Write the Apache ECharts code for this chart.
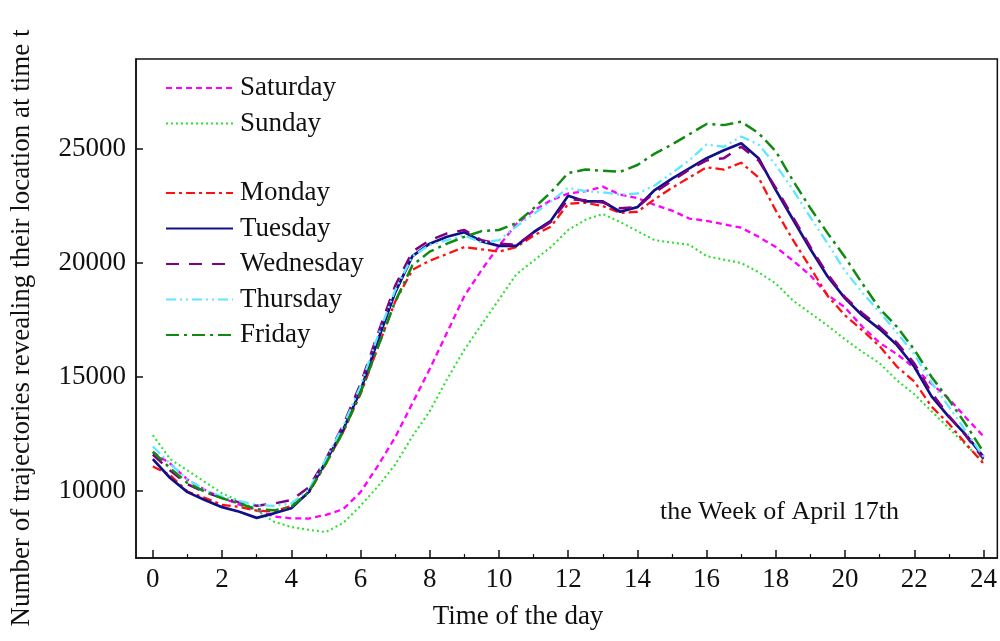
<!DOCTYPE html>
<html>
<head>
<meta charset="utf-8">
<script src="https://cdn.jsdelivr.net/npm/echarts@6/dist/echarts.min.js"></script>
<style>
html,body{margin:0;padding:0;background:#fff;}
#chart{width:1000px;height:641px;}
</style>
</head>
<body>
<div id="chart"></div>
<script>
const hours = [0,0.5,1,1.5,2,2.5,3,3.5,4,4.5,5,5.5,6,6.5,7,7.5,8,8.5,9,9.5,10,10.5,11,11.5,12,12.5,13,13.5,14,14.5,15,15.5,16,16.5,17,17.5,18,18.5,19,19.5,20,20.5,21,21.5,22,22.5,23,23.5,24];
const xTicks = [0,2,4,6,8,10,12,14,16,18,20,22,24];
const xMinorTicks = [1,3,5,7,9,11,13,15,17,19,21,23];
const yTicks = [10000,15000,20000,25000];

const saturday = [11700,11200,10500,10050,9700,9400,9150,8880,8800,8790,8950,9200,9950,11100,12350,13850,15350,16950,18550,19700,20750,21700,22300,22750,23050,23150,23350,23000,22850,22550,22300,21950,21850,21700,21550,21150,20700,20100,19450,18600,18050,17200,16500,16000,15400,14700,14050,13200,12400];
const sunday = [12450,11400,10900,10400,9900,9550,9150,8650,8420,8300,8200,8600,9350,10200,11150,12400,13500,14900,16200,17300,18400,19500,20100,20700,21450,21900,22150,21800,21400,21000,20900,20800,20300,20150,20000,19600,19100,18350,17800,17250,16650,16100,15600,14850,14250,13500,12750,12000,11300];
const monday = [11070,10700,9970,9700,9390,9300,9140,9100,9340,9900,11200,12600,14250,16300,18300,19700,20100,20400,20700,20600,20500,20700,21200,21600,22600,22650,22500,22200,22250,22800,23300,23750,24200,24100,24400,23750,22300,21000,19800,18550,17700,17050,16350,15450,14800,13700,12950,12050,11200];
const tuesday = [11400,10570,9950,9600,9290,9090,8820,9020,9240,9950,11300,12700,14400,16600,18700,20300,20850,21150,21350,20950,20750,20750,21350,21850,22950,22700,22700,22250,22450,23200,23700,24150,24600,24950,25250,24600,23200,21900,20600,19400,18450,17700,17100,16400,15450,14150,13250,12450,11500];
const wednesday = [11600,10900,10300,9950,9700,9500,9350,9450,9600,10150,11400,12900,14700,16900,19000,20500,21000,21300,21450,21000,20850,20800,21300,21800,22800,22750,22650,22400,22450,23100,23600,24100,24500,24600,25100,24500,23300,22000,20700,19500,18500,17800,17200,16500,15600,14300,13300,12400,11400];
const thursday = [11950,11200,10500,10050,9750,9550,9390,9350,9450,10050,11400,12850,14600,16800,18800,20300,20800,21000,21200,20900,21000,21600,22150,22700,23300,23150,23100,23000,23050,23400,23950,24500,25200,25100,25550,25200,24300,23200,22000,20850,19650,18700,17850,16950,16000,14750,13700,12600,11500];
const friday = [11720,11000,10350,9970,9680,9450,9200,9150,9300,9950,11200,12600,14300,16300,18300,19900,20500,20850,21150,21400,21450,21750,22400,23100,23950,24100,24050,24000,24300,24800,25200,25650,26100,26050,26200,25700,24900,23600,22400,21300,20250,19100,18000,17200,16200,15000,14000,12900,11700];

const dayNames = ['Saturday','Sunday','Monday','Tuesday','Wednesday','Thursday','Friday'];
const dayValues = [saturday, sunday, monday, tuesday, wednesday, thursday, friday];
const dayColors = ['#ff00ff','#2ee02e','#ff1010','#10108a','#800080','#5ee8ff','#108a10'];
const dayDash = [[6,4],[2,3],[9,4,3,4],'solid',[13,10],[10,4,2,4,2,4],[13,5,3,5]];
const dayWidth = [2.3,2.1,2.3,2.7,2.5,2.3,2.5];

const FONT = 'Liberation Serif, Times New Roman, serif';
const chart = echarts.init(document.getElementById('chart'), null, {renderer:'canvas'});

const series = dayNames.map((name, i) => ({
  name: name,
  type: 'line',
  symbol: 'none',
  showSymbol: false,
  silent: true,
  animation: false,
  data: hours.map((h, k) => [h, dayValues[i][k]]),
  lineStyle: { color: dayColors[i], width: dayWidth[i], type: dayDash[i] },
  itemStyle: { color: dayColors[i] }
}));

const legendCommon = {
  orient: 'vertical',
  left: 165,
  padding: 0,
  itemWidth: 67,
  itemHeight: 14,
  itemGap: 8.5,
  selectedMode: false,
  itemStyle: { opacity: 0, borderWidth: 0 },
  textStyle: { fontFamily: FONT, fontSize: 27, color: '#111', lineHeight: 27, padding: [0,0,0,2] }
};

const option = {
  animation: false,
  backgroundColor: '#fff',
  grid: { left: 136, top: 59, right: -5, bottom: 83, show: true, borderColor: '#111', borderWidth: 1.5, containLabel: false },
  legend: [
    Object.assign({}, legendCommon, { top: 74.5, data: ['Saturday','Sunday'] }),
    Object.assign({}, legendCommon, { top: 179.5, data: ['Monday','Tuesday','Wednesday','Thursday','Friday'] })
  ],
  xAxis: [
    {
      type: 'value', min: -0.487, max: 24.40,
      axisLine: { show: true, onZero: false, lineStyle: { color: '#111', width: 1.5 } },
      axisTick: { show: true, inside: true, length: 8, customValues: xTicks, lineStyle: { color: '#111', width: 1.5 } },
      axisLabel: { customValues: xTicks, fontFamily: FONT, fontSize: 27, color: '#111', margin: 8, formatter: v => String(v) },
      splitLine: { show: false }
    },
    {
      type: 'value', min: -0.487, max: 24.40, position: 'bottom',
      axisLine: { show: false },
      axisTick: { show: true, inside: true, length: 4, customValues: xMinorTicks, lineStyle: { color: '#111', width: 1.2 } },
      axisLabel: { show: false },
      splitLine: { show: false }
    }
  ],
  yAxis: {
    type: 'value', min: 7060, max: 28950,
    axisLine: { show: true, onZero: false, lineStyle: { color: '#111', width: 1.5 } },
    axisTick: { show: true, inside: true, length: 7, customValues: yTicks, lineStyle: { color: '#111', width: 1.5 } },
    axisLabel: { customValues: yTicks, fontFamily: FONT, fontSize: 27, color: '#111', margin: 10, formatter: v => String(v) },
    splitLine: { show: false }
  },
  graphic: [
    { type: 'text', x: 518, y: 617, style: { text: 'Time of the day', font: '27px ' + FONT, fill: '#111', align: 'center', verticalAlign: 'middle' } },
    { type: 'text', x: 22, y: 328, rotation: Math.PI / 2, style: { text: 'Number of trajectories revealing their location at time t', font: '27px ' + FONT, fill: '#111', align: 'center', verticalAlign: 'middle' } },
    { type: 'text', x: 660, y: 512, style: { text: 'the Week of April 17th', font: '26px ' + FONT, fill: '#111', align: 'left', verticalAlign: 'middle' } }
  ],
  series: series
};
chart.setOption(option);
</script>
</body>
</html>
